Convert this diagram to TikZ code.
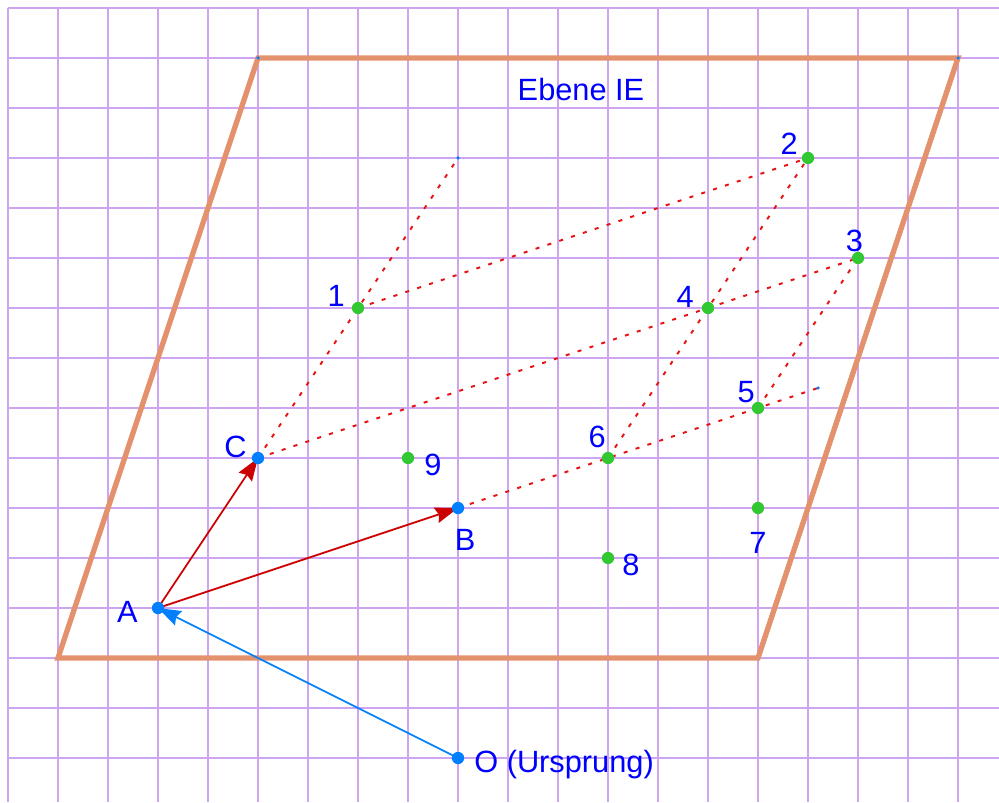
\documentclass[tikz,border=0pt]{standalone}
\usepackage{fontspec}
\setmainfont{Liberation Sans}
\usetikzlibrary{arrows.meta,positioning}

\definecolor{gridpurple}{RGB}{205,165,240}
\definecolor{planeorange}{RGB}{228,145,110}
\definecolor{dashred}{RGB}{230,20,20}
\definecolor{vecred}{RGB}{204,0,0}
\definecolor{vecblue}{RGB}{0,128,255}
\definecolor{ptgreen}{RGB}{50,200,50}
\definecolor{textblue}{RGB}{0,0,255}

\begin{document}
\begin{tikzpicture}[
    gridline/.style={draw=gridpurple, line width=1.2pt},
    plane/.style={draw=planeorange, line width=3pt},
    aux/.style={draw=dashred, line width=1.1pt, dash pattern=on 2.3pt off 4.8pt},
    vec/.style={draw=vecred, line width=1pt, -{Stealth[length=13pt,width=9pt,inset=1.5pt]}},
    ovec/.style={draw=vecblue, line width=1pt, -{Stealth[length=13pt,width=9pt,inset=1.5pt]}},
    bluept/.style={fill=vecblue},
    greenpt/.style={fill=ptgreen},
    lbl/.style={text=textblue, font=\fontsize{17.5}{20}\selectfont, inner sep=0pt}
]
    % Fix the size of the picture
    \useasboundingbox[fill=white] (-0.16,-0.88) rectangle (19.82,15.16);

    % Draw the grid
    \draw[gridline] (0,-0.88) grid (19.82,15);

    % Define the points of the plane
    \coordinate (E1) at (1,2);
    \coordinate (E2) at (5,14);
    \coordinate (E3) at (19,14);
    \coordinate (E4) at (15,2);

    % Define the points
    \coordinate (O) at (9,0);
    \coordinate (A) at (3,3);
    \coordinate (B) at (9,5);
    \coordinate (C) at (5,6);
    \coordinate (P1) at (7,9);
    \coordinate (P2) at (16,12);
    \coordinate (P3) at (17,10);
    \coordinate (P4) at (14,9);
    \coordinate (P5) at (15,7);
    \coordinate (P6) at (12,6);
    \coordinate (P7) at (15,5);
    \coordinate (P8) at (12,4);
    \coordinate (P9) at (8,6);
    \coordinate (U) at (9,12);
    \coordinate (V) at (16.2,7.4);

    % Draw the plane
    \draw[plane] (E1) -- (E2) -- (E3) -- (E4) -- cycle;

    % Draw the helper lines
    \draw[aux] (C) -- (U);
    \draw[aux] (C) -- (P3);
    \draw[aux] (P1) -- (P2);
    \draw[aux] (P6) -- (P2);
    \draw[aux] (P5) -- (P3);
    \draw[aux] (B) -- (V);

    % Draw the vectors
    \draw[vec] (A) -- (B);
    \draw[vec] (A) -- (C);
    \draw[ovec] (O) -- (A);

    % Draw the points
    \foreach \p in {O,A,B,C}
        \fill[bluept] (\p) circle (3.5pt);
    \foreach \p in {P1,P2,P3,P4,P5,P6,P7,P8,P9}
        \fill[greenpt] (\p) circle (3.5pt);
    \foreach \p in {E2,E3,U,V}
        \fill[bluept] (\p) circle (1pt);

    % Place the labels
    \node[lbl] (lE) at (11.46,13.36) {Ebene IE};
    \node[lbl] (lA) at (A) [left=0.4cm, yshift=-2pt] {A};
    \node[lbl] (lB) at (B) [below=0.42cm, xshift=4pt] {B};
    \node[lbl] (lC) at (C) [above left=0cm and 0.22cm] {C};
    \node[lbl] (lO) at (O) [right=0.32cm, yshift=-4pt] {O (Ursprung)};
    \node[lbl] (l1) at (P1) [above left=0.02cm and 0.26cm] {1};
    \node[lbl] (l2) at (P2) [above left=0.06cm and 0.2cm] {2};
    \node[lbl] (l3) at (P3) [above=0.12cm, xshift=-2pt] {3};
    \node[lbl] (l4) at (P4) [above left=0cm and 0.28cm] {4};
    \node[lbl] (l5) at (P5) [above left=0.1cm and 0.06cm] {5};
    \node[lbl] (l6) at (P6) [above left=0.2cm and 0.04cm] {6};
    \node[lbl] (l7) at (P7) [below=0.48cm] {7};
    \node[lbl] (l8) at (P8) [right=0.28cm, yshift=-4pt] {8};
    \node[lbl] (l9) at (P9) [right=0.32cm, yshift=-4pt] {9};

\end{tikzpicture}
\end{document}
